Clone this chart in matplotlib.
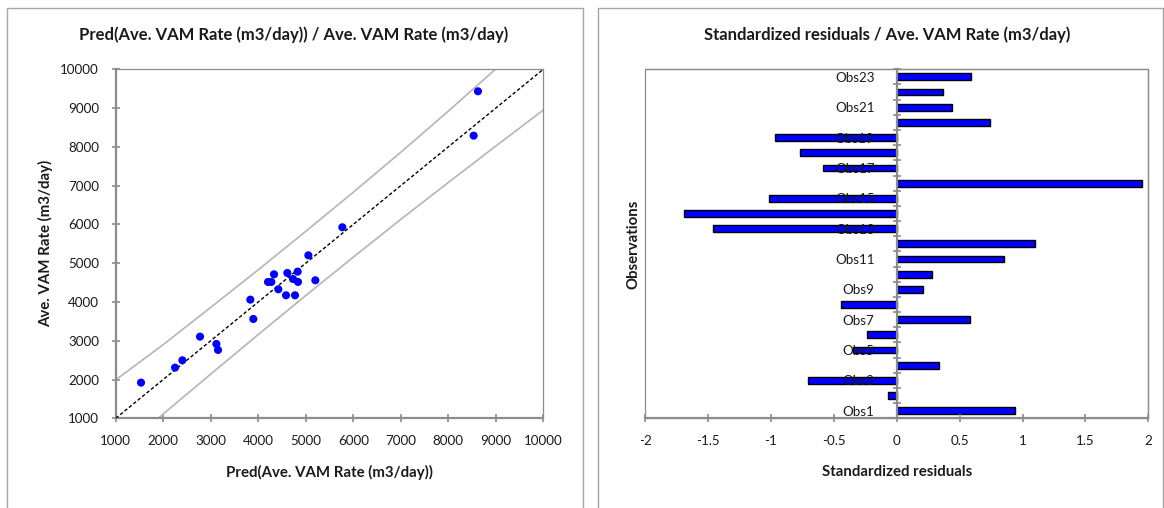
import matplotlib
matplotlib.use('Agg')
import matplotlib.pyplot as plt
from matplotlib.patches import Rectangle
from matplotlib.ticker import FixedLocator, NullFormatter

# ---------------- data ----------------
pred = [1533, 2249, 2403, 2775, 3119, 3154, 3834, 3897, 4206, 4276, 4332, 4423,
        4585, 4613, 4732, 4774, 4830, 4837, 5055, 5202, 5770, 8534, 8625]
observed = [1920, 2307, 2496, 3106, 2917, 2762, 4060, 3562, 4516, 4516, 4713, 4327,
            4172, 4748, 4593, 4172, 4782, 4516, 5203, 4559, 5926, 8289, 9433]

band_x = [1000, 2000, 3000, 4000, 5000, 6000, 7000, 8000, 9000, 10000]
band_upper = [1990, 2900, 3860, 4830, 5820, 6830, 7860, 8920, 10010, 11100]
band_lower = [50, 1110, 2140, 3160, 4165, 5155, 6130, 7080, 8020, 8950]

obs_labels = ['Obs%d' % i for i in range(1, 24)]
std_resid = [0.94, -0.072, -0.706, 0.334, -0.345, -0.236, 0.581, -0.446, 0.207,
             0.279, 0.855, 1.10, -1.46, -1.687, -1.015, 1.953, -0.588, -0.765,
             -0.97, 0.745, 0.44, 0.37, 0.59]

left_ticks = [1000, 2000, 3000, 4000, 5000, 6000, 7000, 8000, 9000, 10000]
resid_ticks = [-2, -1.5, -1, -0.5, 0, 0.5, 1, 1.5, 2]
resid_ticklabels = ['-2', '-1.5', '-1', '-0.5', '0', '0.5', '1', '1.5', '2']

# ---------------- style ----------------
plt.rcParams['font.family'] = ['Lato', 'DejaVu Sans']
W, H = 1164, 508
fig = plt.figure(figsize=(W / 100, H / 100), dpi=100)
fig.patch.set_facecolor('white')

GRAY = '#8c8c8c'
FRAME = '#a6a6a6'
TXT = '#1a1a1a'
TICK_FS = 9.6
LABEL_FS = 10.8
TITLE_FS = 12


def px_rect(x0, y0, x1, y1):
    # pixel coords (top-left origin) -> figure fraction rect
    return [x0 / W, 1 - y1 / H, (x1 - x0) / W, (y1 - y0) / H]


# panel frames
for (x0, x1) in [(7, 583), (598, 1162.5)]:
    fig.add_artist(Rectangle((x0 / W, -0.1), (x1 - x0) / W, 1 - 8 / H + 0.1,
                             transform=fig.transFigure, fill=False,
                             edgecolor=FRAME, lw=1.0))

# ---------------- left chart ----------------
ax1 = fig.add_axes(px_rect(115.7, 69.3, 543.3, 418.3))
ax1.set_xlim(1000, 10000)
ax1.set_ylim(1000, 10000)
ax1.plot(band_x, band_upper, color='#b5b5b5', lw=1.2, zorder=2)
ax1.plot(band_x, band_lower, color='#b5b5b5', lw=1.2, zorder=2)
ax1.plot([1000, 10000], [1000, 10000], color='black', lw=1.0,
         linestyle=(0, (2.5, 1.6)), zorder=3)
ax1.scatter(pred, observed, s=34, color='#0000ff', edgecolors='none', zorder=4)

ax1.set_xticks(left_ticks)
ax1.set_yticks(left_ticks)
ax1.set_xticklabels([str(t) for t in left_ticks])
ax1.set_yticklabels([str(t) for t in left_ticks])
for s in ['top', 'right']:
    ax1.spines[s].set_color(GRAY)
    ax1.spines[s].set_linewidth(0.9)
for s in ['left', 'bottom']:
    ax1.spines[s].set_color(GRAY)
    ax1.spines[s].set_linewidth(1.6)
ax1.tick_params(axis='both', direction='inout', length=6, width=1.2,
                color=GRAY, labelsize=TICK_FS, labelcolor=TXT)
ax1.tick_params(axis='x', pad=9)
ax1.tick_params(axis='y', pad=9)
ax1.set_xlabel('Pred(Ave. VAM Rate (m3/day))', fontsize=LABEL_FS, fontweight='bold',
               color=TXT, labelpad=13)
ax1.set_ylabel('Ave. VAM Rate (m3/day)', fontsize=LABEL_FS, fontweight='bold',
               color=TXT, labelpad=5)
fig.text(294 / W, 1 - 35 / H, 'Pred(Ave. VAM Rate (m3/day)) / Ave. VAM Rate (m3/day)',
         ha='center', va='center', fontsize=TITLE_FS, fontweight='bold', color=TXT)

# ---------------- right chart ----------------
ax2 = fig.add_axes(px_rect(645.1, 69.3, 1148.3, 418.3))
ypos = list(range(len(std_resid)))
ax2.barh(ypos, std_resid, height=0.45, color='#0000ff', edgecolor='black',
         linewidth=1.0, zorder=1)
ax2.set_xlim(-2, 2)
ax2.set_ylim(-0.5, len(std_resid) - 0.5)
ax2.set_xticks(resid_ticks)
ax2.set_xticklabels(resid_ticklabels)

ax2.spines['left'].set_position(('data', 0))
ax2.spines['left'].set_color(GRAY)
ax2.spines['left'].set_linewidth(1.6)
ax2.spines['bottom'].set_color(GRAY)
ax2.spines['bottom'].set_linewidth(1.6)
ax2.spines['top'].set_color(GRAY)
ax2.spines['top'].set_linewidth(0.9)
ax2.spines['right'].set_color(GRAY)
ax2.spines['right'].set_linewidth(0.9)
ax2.add_patch(Rectangle((0, 0), 1, 1, transform=ax2.transAxes, fill=False,
                        edgecolor=GRAY, lw=0.9, zorder=0, clip_on=False))

major_pos = ypos[::2]
ax2.yaxis.set_major_locator(FixedLocator(major_pos))
ax2.set_yticklabels([obs_labels[i] for i in major_pos])
ax2.yaxis.set_minor_locator(FixedLocator([p - 0.5 for p in ypos] + [len(ypos) - 0.5]))
ax2.yaxis.set_minor_formatter(NullFormatter())
ax2.tick_params(axis='y', which='major', length=0, pad=16, labelsize=TICK_FS,
                labelcolor=TXT)
ax2.tick_params(axis='y', which='minor', direction='inout', length=6, width=1.2,
                color=GRAY)
ax2.tick_params(axis='x', direction='inout', length=6, width=1.2, color=GRAY,
                labelsize=TICK_FS, labelcolor=TXT, pad=9)
ax2.set_xlabel('Standardized residuals', fontsize=LABEL_FS, fontweight='bold',
               color=TXT, labelpad=13)
fig.text(634 / W, 1 - 244 / H, 'Observations', rotation=90, ha='center',
         va='center', fontsize=LABEL_FS, fontweight='bold', color=TXT)
fig.text(887 / W, 1 - 35 / H, 'Standardized residuals / Ave. VAM Rate (m3/day)',
         ha='center', va='center', fontsize=TITLE_FS, fontweight='bold', color=TXT)

fig.savefig('out.png', dpi=100, facecolor='white')
